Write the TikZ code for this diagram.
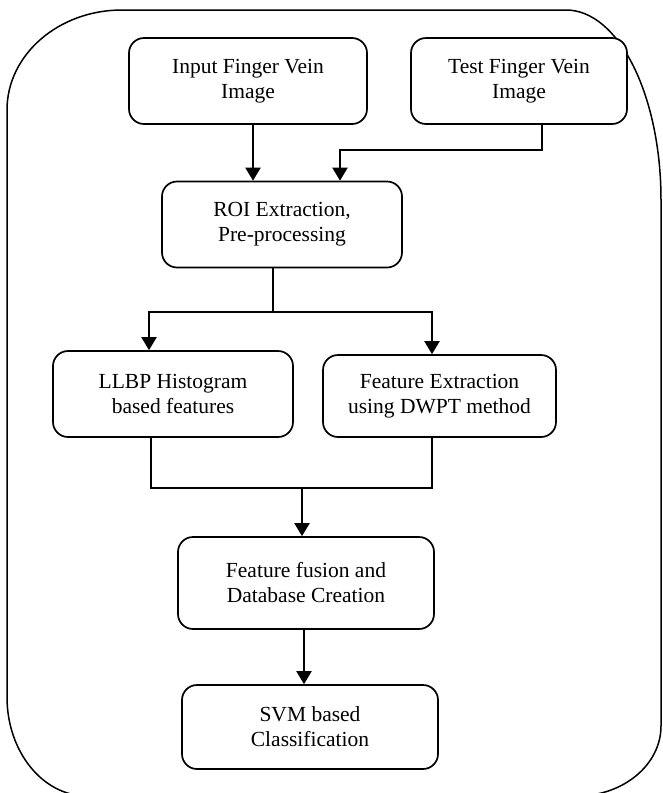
\documentclass[tikz,border=0pt]{standalone}
\usepackage{fontspec}
\setmainfont{Liberation Serif}
\usepackage{tikz}
\usetikzlibrary{arrows.meta,positioning,calc}

\begin{document}
\begin{tikzpicture}[
  x=1pt, y=1pt,
  box/.style={draw, line width=1.7pt, rounded corners=15pt, minimum height=86pt,
              minimum width=240pt, align=center, fill=white,
              font=\fontsize{21.5}{25}\selectfont},
  ar/.style={-{Triangle[length=13pt, width=15pt]}, line width=2pt},
  ln/.style={line width=1.4pt}
]
  \useasboundingbox (0,0) rectangle (663,-793);
  % outer frame
  \draw[line width=1.5pt]
    (122,-10) -- (566,-10)
    arc[start angle=90, end angle=0, x radius=95, y radius=190] -- (661,-726)
    arc[start angle=0, end angle=-90, x radius=84, y radius=70] -- (87,-796)
    arc[start angle=270, end angle=180, x radius=80, y radius=99] -- (7,-110)
    arc[start angle=180, end angle=90, x radius=115, y radius=100] -- cycle;

  \node[box, minimum width=238pt] (in) at (248,-81) {Input Finger Vein\\Image};
  \node[box, minimum width=216pt] (test) at (519,-81) {Test Finger Vein\\Image};
  \node[box] (roi) at (282,-224.5) {ROI Extraction,\\Pre-processing};
  \node[box] (llbp) at (173,-394) {LLBP Histogram\\based features};
  \node[box, minimum width=233pt, minimum height=82pt] (dwpt) at (439.5,-396)
    {Feature Extraction\\using DWPT method};
  \node[box, minimum width=256pt, minimum height=92pt] (fuse) at (306,-583)
    {Feature fusion and\\Database Creation};
  \node[box, minimum width=256pt, minimum height=84pt] (svm) at (310,-727)
    {SVM based\\Classification};

  \coordinate (tj) at (340,-150);
  \coordinate (sj) at (273,-312);
  \coordinate (mj) at (302,-488);

  \draw[ar] ([xshift=5pt]in.south) -- ([xshift=5pt]in.south |- roi.north);
  \draw[ar] ([xshift=23pt]test.south) |- (tj) -- (tj |- roi.north);
  \draw[ln] ([xshift=-9pt]roi.south) -- (sj);
  \draw[ar] (sj) -| ([xshift=-24pt]llbp.north);
  \draw[ar] (sj) -| ([xshift=-7.5pt]dwpt.north);
  \draw[ln] ([xshift=-22pt]llbp.south) |- (mj);
  \draw[ln] ([xshift=-7.5pt]dwpt.south) |- (mj);
  \draw[ar] (mj) -- (mj |- fuse.north);
  \draw[ar] ([xshift=-2pt]fuse.south) -- ([xshift=-2pt]fuse.south |- svm.north);

\end{tikzpicture}
\end{document}
